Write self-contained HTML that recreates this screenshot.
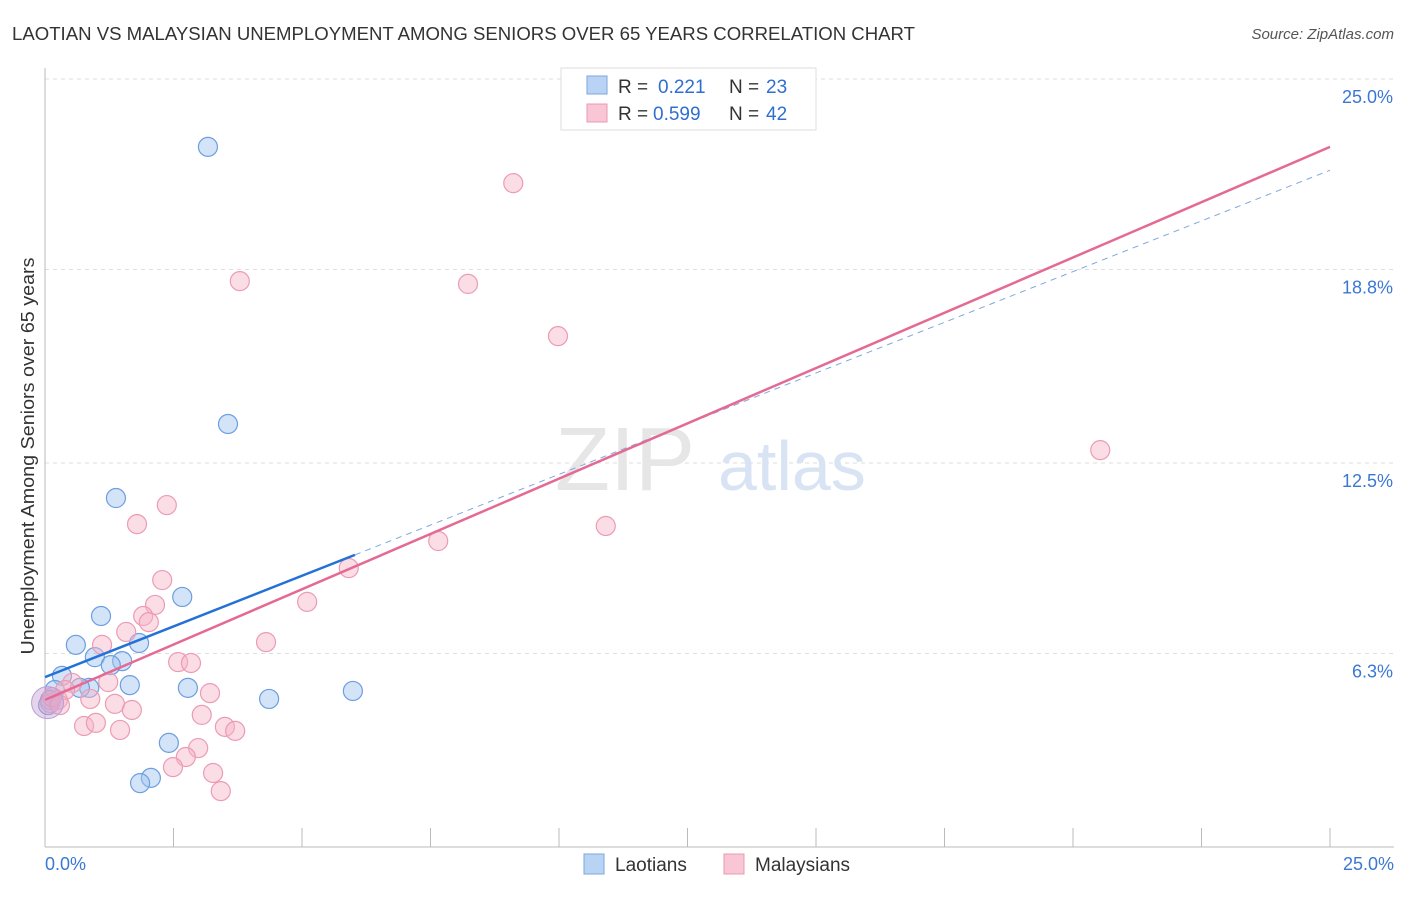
<!DOCTYPE html>
<html><head><meta charset="utf-8"><style>
body{margin:0;background:#fff;font-family:"Liberation Sans",sans-serif;}
svg text{font-family:"Liberation Sans",sans-serif;}
</style></head><body>
<svg width="1406" height="892">
<text x="12" y="40" font-size="18" fill="#333" textLength="903" lengthAdjust="spacingAndGlyphs">LAOTIAN VS MALAYSIAN UNEMPLOYMENT AMONG SENIORS OVER 65 YEARS CORRELATION CHART</text>
<text x="1394" y="39" font-size="15" fill="#555" font-style="italic" text-anchor="end">Source: ZipAtlas.com</text>
<g id="grid"></g>
<text x="555" y="490" font-size="90" fill="#e6e6e6" font-family="Liberation Serif">ZIP</text>
<text x="718" y="490" font-size="70" fill="#d8e4f4">atlas</text>
<text x="34" y="456" font-size="18" fill="#333" text-anchor="middle" textLength="397" lengthAdjust="spacingAndGlyphs" transform="rotate(-90 34 456)">Unemployment Among Seniors over 65 years</text>
<g id="marks"></g>
<g>
<rect x="561" y="68" width="255" height="62" fill="#fff" stroke="#ddd"/>
<rect x="587" y="76" width="20" height="18" fill="#b9d3f5" stroke="#7aa7e0"/>
<rect x="587" y="104" width="20" height="18" fill="#f9c6d6" stroke="#ec98b3"/>
<text x="618" y="93" font-size="19" fill="#333">R = </text><text x="658" y="93" font-size="19" fill="#2f6fd0">0.221</text>
<text x="729" y="93" font-size="19" fill="#333">N = </text><text x="766" y="93" font-size="19" fill="#2f6fd0">23</text>
<text x="618" y="120" font-size="19" fill="#333">R = </text><text x="653" y="120" font-size="19" fill="#2f6fd0">0.599</text>
<text x="729" y="120" font-size="19" fill="#333">N = </text><text x="766" y="120" font-size="19" fill="#2f6fd0">42</text>
</g>
<g>
<rect x="584" y="854" width="20" height="20" fill="#b9d3f5" stroke="#7aa7e0"/>
<text x="615" y="871" font-size="19" fill="#333">Laotians</text>
<rect x="724" y="854" width="20" height="20" fill="#f9c6d6" stroke="#ec98b3"/>
<text x="755" y="871" font-size="19" fill="#333">Malaysians</text>
</g>
</svg>
<script>
const yTicks=[25.0,18.8,12.5,6.3];
const yTickLabels=["25.0%","18.8%","12.5%","6.3%"];
const xTickLabels=["0.0%","25.0%"];
const laoX=[3.17,3.56,1.38,2.67,1.09,0.60,1.83,0.97,1.50,1.28,1.65,2.78,0.86,4.36,5.99,2.41,2.06,1.85,0.33,0.68,0.19,0.10,0.06];
const laoY=[22.79,13.77,11.36,8.14,7.52,6.58,6.64,6.18,6.05,5.92,5.27,5.18,5.18,4.82,5.08,3.39,2.25,2.08,5.57,5.18,5.11,4.79,4.62];
const malX=[9.11,3.79,8.23,9.98,20.53,2.37,1.79,10.91,7.65,5.91,2.28,2.14,5.10,1.91,2.02,1.58,4.30,1.11,2.59,2.84,1.23,3.21,0.53,1.36,0.88,1.69,3.05,3.50,3.70,0.76,0.99,1.46,2.98,2.74,2.49,3.27,3.42,0.25,0.10,0.39,0.14,0.29];
const malY=[21.61,18.42,18.33,16.63,12.92,11.13,10.51,10.45,9.96,9.08,8.69,7.88,7.98,7.52,7.32,7.00,6.67,6.58,6.02,5.99,5.37,5.01,5.34,4.66,4.82,4.46,4.30,3.91,3.78,3.94,4.04,3.81,3.22,2.93,2.60,2.41,1.82,4.79,4.69,5.11,4.88,4.62];
const laoTrend=[5.53,0.66]; // intercept, slope
const malTrend=[4.79,0.72];
const NS="http://www.w3.org/2000/svg";
const X=v=>45+v*51.4, Y=v=>847-v*30.72;
function mk(tag,attrs,parent){const e=document.createElementNS(NS,tag);for(const k in attrs)e.setAttribute(k,attrs[k]);parent.appendChild(e);return e;}
const grid=document.getElementById('grid'),marks=document.getElementById('marks');
yTicks.forEach((t,i)=>{
 const l=mk('line',{x1:45,x2:1394,y1:Y(t),y2:Y(t),stroke:'#ddd','stroke-dasharray':'4,4'},grid);
 
 
 const tx=mk('text',{x:1393,y:Y(t)+24,'font-size':18,fill:'#3a78d4','text-anchor':'end'},grid);
 tx.textContent=yTickLabels[i];
 
 
});
const ax=mk('line',{x1:45,x2:45,y1:68,y2:847,stroke:'#bbb'},grid);


const bx=mk('line',{x1:45,x2:1394,y1:847,y2:847,stroke:'#bbb'},grid);


for(let i=0;i<=10;i++){const t=mk('line',{x1:X(i*2.5),x2:X(i*2.5),y1:828,y2:847,stroke:'#bbb'},grid);
 
 }
[[0,'start',45],[25,'end',1394]].forEach((a,i)=>{const t=mk('text',{x:a[2],y:870,'font-size':18,fill:'#3a78d4','text-anchor':a[1]},grid);t.textContent=xTickLabels[i];
 
 });
function dots(xs,ys,fill,stroke,name){xs.forEach((x,i)=>{const c=mk('circle',{cx:X(x),cy:Y(ys[i]),r:9.5,fill:fill,stroke:stroke,'stroke-width':1.2},marks);
 
 });}
dots(laoX,laoY,'rgba(160,195,240,0.45)','#6c9ee0','laotian-point');
dots(malX,malY,'rgba(247,180,200,0.45)','#ec9bb5','malaysian-point');
const big=mk('circle',{cx:X(0.05),cy:Y(4.7),r:16,fill:'rgba(200,160,210,0.45)',stroke:'#b9a0d8'},marks);


const xEndLao=6.03;
let l1=mk('line',{x1:X(0),y1:Y(laoTrend[0]),x2:X(xEndLao),y2:Y(laoTrend[0]+laoTrend[1]*xEndLao),stroke:'#2370d6','stroke-width':2.5},marks);


let l2=mk('line',{x1:X(xEndLao),y1:Y(laoTrend[0]+laoTrend[1]*xEndLao),x2:X(25),y2:Y(laoTrend[0]+laoTrend[1]*25),stroke:'#7ea8e0','stroke-width':1,'stroke-dasharray':'6,5'},marks);


let l3=mk('line',{x1:X(0),y1:Y(malTrend[0]),x2:X(25),y2:Y(malTrend[0]+malTrend[1]*25),stroke:'#e46a94','stroke-width':2.5},marks);


</script>
</body></html>
